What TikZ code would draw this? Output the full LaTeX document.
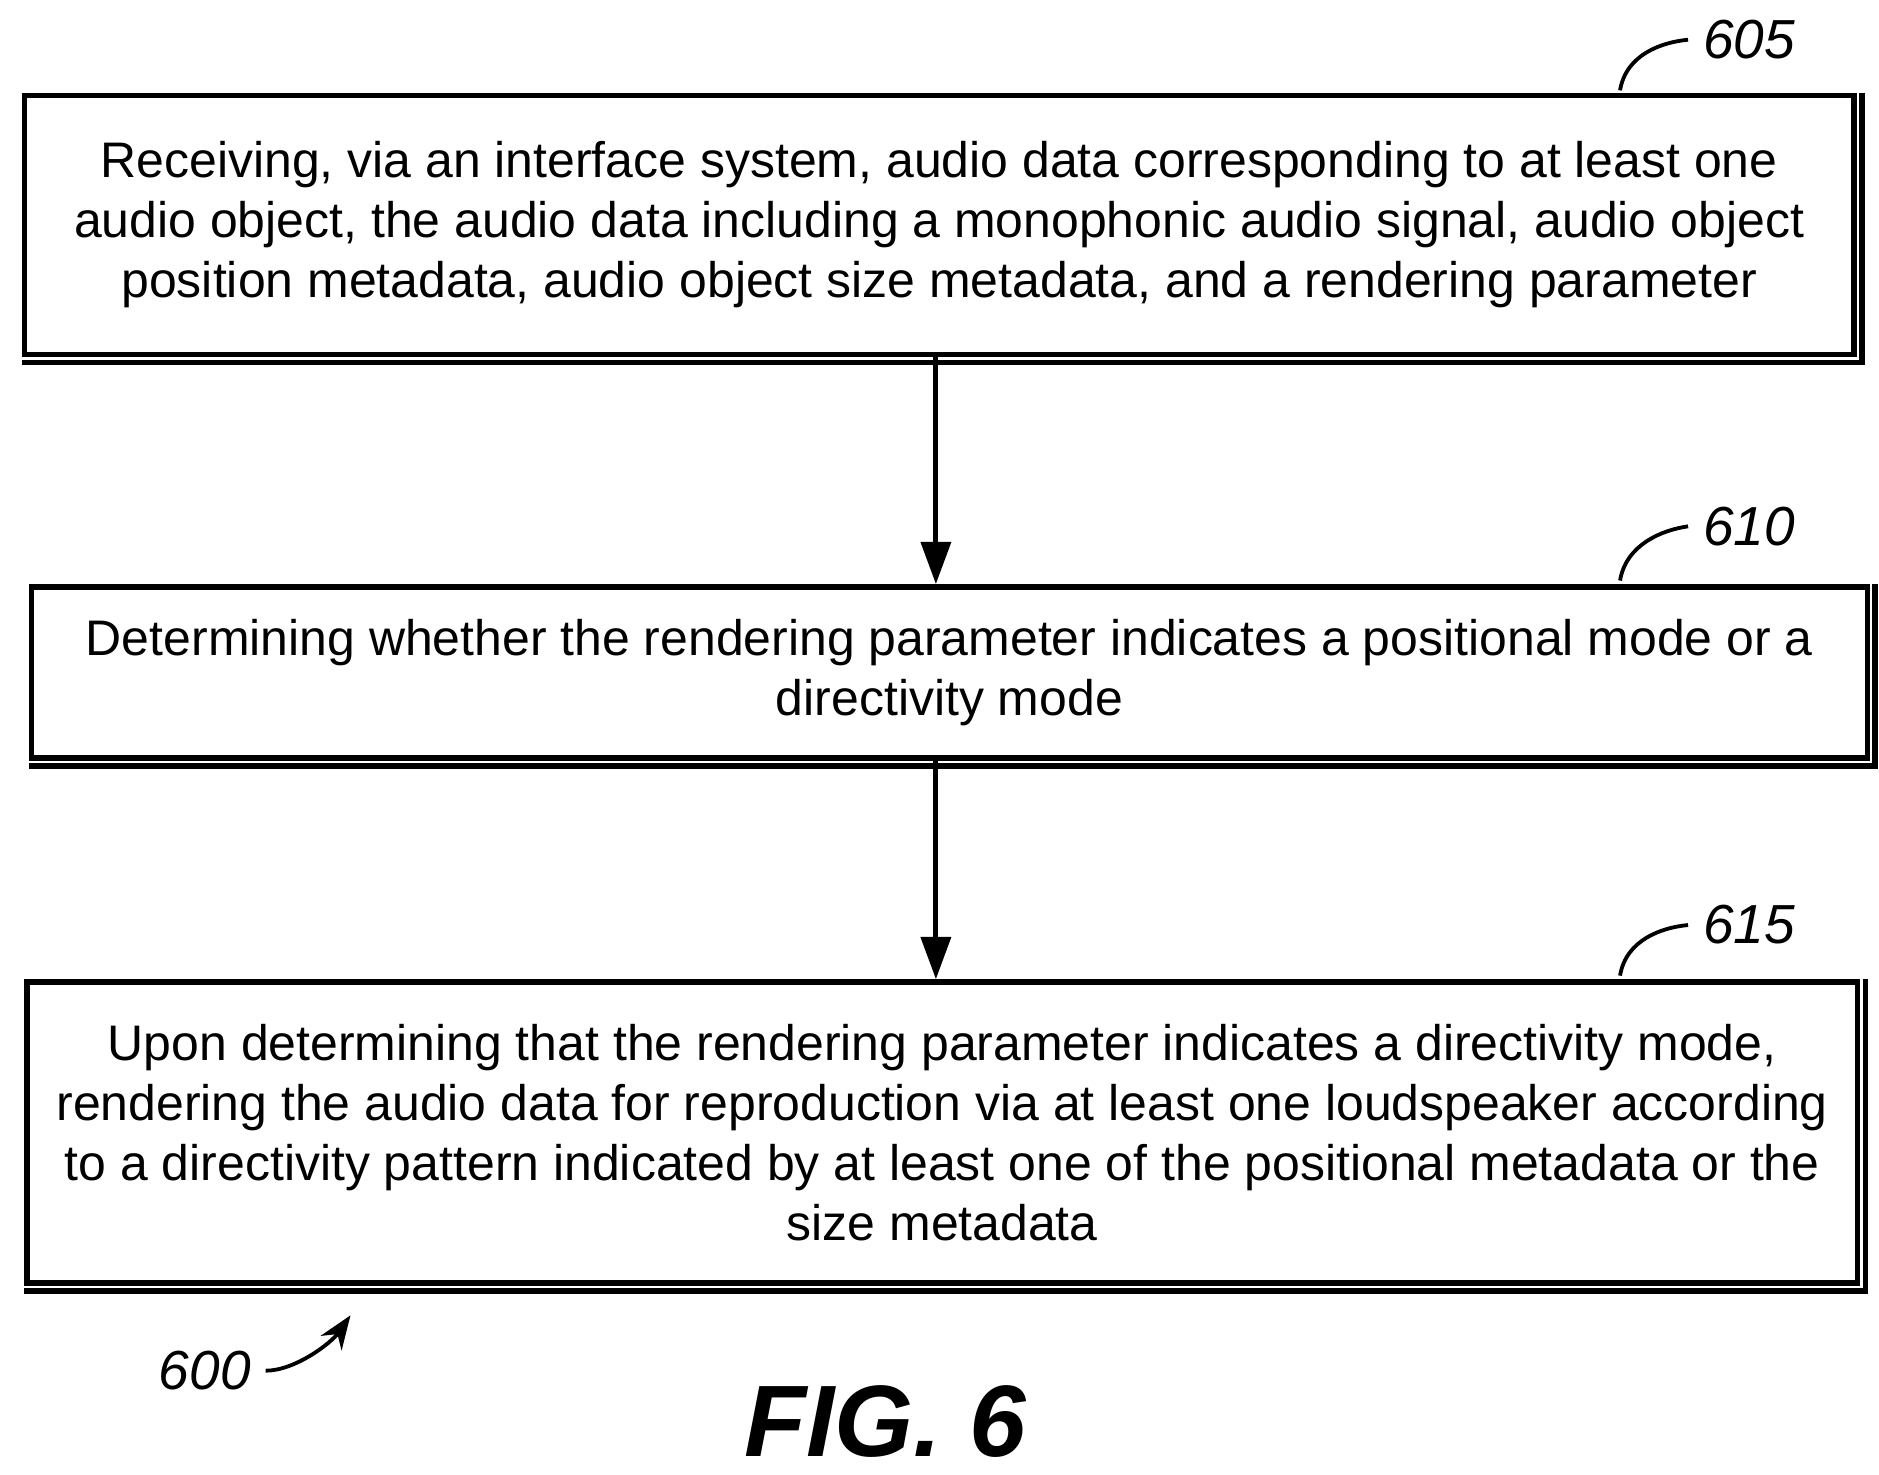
\documentclass[tikz,border=0pt]{standalone}
\usepackage{fontspec}
\setmainfont{Liberation Sans}
\usetikzlibrary{positioning,arrows.meta}
\tikzset{
  flowstep/.style={draw, line width=1.3pt, align=center, inner sep=0pt,
    font=\fontsize{11.8}{14.2}\selectfont, anchor=north west},
  flow/.style={-{Triangle[length=10pt,width=7pt]}, line width=1.2pt},
  refnum/.style={font=\fontsize{13}{15}\selectfont\itshape},
  lead/.style={line width=0.9pt}
}
\begin{document}
\begin{tikzpicture}[x=0.1mm,y=-0.1mm]
    \useasboundingbox (0,0) rectangle (1560,1224);
    % Cajas
    \node[flowstep, minimum width=151.9mm, minimum height=21.5mm] (s605) at (18,77)
      {Receiving, via an interface system, audio data corresponding to at least one\\
       audio object, the audio data including a monophonic audio signal, audio object\\
       position metadata, audio object size metadata, and a rendering parameter};
    \node[flowstep, minimum width=152.4mm, minimum height=14.2mm] (s610) at (24,485)
      {Determining whether the rendering parameter indicates a positional mode or a\\
       directivity mode};
    \node[flowstep, minimum width=152mm, minimum height=25mm] (s615) at (20,813)
      {Upon determining that the rendering parameter indicates a directivity mode,\\
       rendering the audio data for reproduction via at least one loudspeaker according\\
       to a directivity pattern indicated by at least one of the positional metadata or the\\
       size metadata};
    % Sombras
    \foreach \b in {s605,s610,s615}
        \draw[line width=1.3pt] ([xshift=1.2pt]\b.north east) -- ([xshift=1.2pt,yshift=-1.2pt]\b.south east)
          -- ([yshift=-1.2pt]\b.south west);
    % Flechas
    \draw[flow] (s605.south -| 777,0) -- (s610.north -| 777,0);
    \draw[flow] (s610.south -| 777,0) -- (s615.north -| 777,0);
    % Referencias
    \node[refnum] (n605) at (1452,33) {605};
    \draw[lead] (1345,75) .. controls (1350,45) and (1380,35) .. (n605.west);
    \node[refnum] (n610) at (1452,437) {610};
    \draw[lead] (1345,482) .. controls (1350,452) and (1380,440) .. (n610.west);
    \node[refnum] (n615) at (1452,768) {615};
    \draw[lead] (1345,810) .. controls (1350,780) and (1380,770) .. (n615.west);
    \node[refnum] (n600) at (170,1138) {600};
    \coordinate (p600) at (291,1092);
    \draw[lead, -{Stealth[length=8pt,width=6pt]}] (n600.east) .. controls (245,1138) and (275,1115) .. (p600);
    % Titulo
    \node[font=\fontsize{24}{28}\selectfont\bfseries\itshape] (fig) at (735,1180) {FIG. 6};
\end{tikzpicture}
\end{document}
